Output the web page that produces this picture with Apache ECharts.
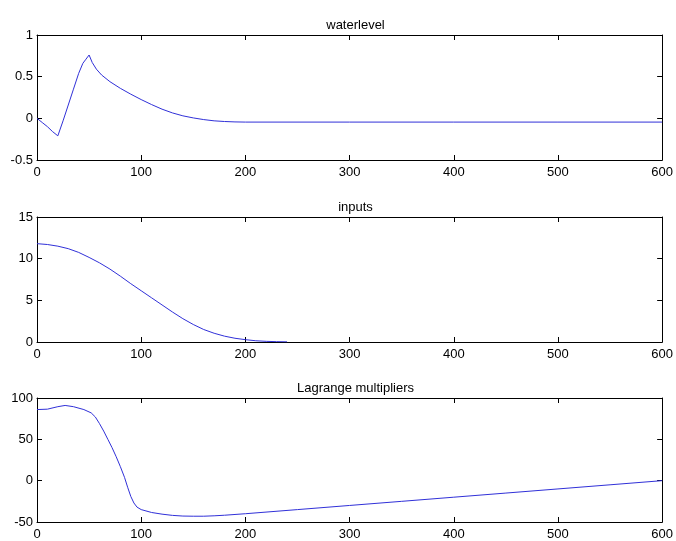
<!DOCTYPE html>
<html>
<head>
<meta charset="utf-8">
<script src="https://cdn.jsdelivr.net/npm/echarts@6/dist/echarts.min.js"></script>
<style>
html,body{margin:0;padding:0;background:#fff;}
#chart{width:676px;height:541px;}
</style>
</head>
<body>
<div id="chart"></div>
<script>
// ---- data ----
const titles = ['waterlevel', 'inputs', 'Lagrange multipliers'];
const xTicks = [0, 100, 200, 300, 400, 500, 600];

const waterlevel = [
  [0, 0], [5, -0.05], [10, -0.1], [15, -0.16], [20, -0.21], [25, -0.03], [30, 0.16],
  [35, 0.35], [40, 0.54], [44, 0.66], [47, 0.71], [50, 0.76], [53, 0.67], [57, 0.59], [62, 0.52],
  [70, 0.44], [80, 0.36], [90, 0.29], [100, 0.225], [110, 0.165], [120, 0.11],
  [130, 0.065], [140, 0.03], [150, 0.005], [160, -0.015], [170, -0.03], [180, -0.038],
  [190, -0.043], [200, -0.045], [300, -0.045], [400, -0.045], [500, -0.045], [600, -0.045]
];

const inputs = [
  [0, 11.8], [10, 11.7], [20, 11.5], [30, 11.2], [40, 10.75], [50, 10.15], [60, 9.5],
  [70, 8.75], [80, 7.9], [90, 7.0], [100, 6.15], [110, 5.3], [120, 4.45], [130, 3.6],
  [140, 2.8], [150, 2.1], [160, 1.5], [170, 1.05], [180, 0.7], [190, 0.45], [200, 0.28],
  [210, 0.15], [220, 0.08], [230, 0.04], [240, 0.02]
];

const lagrange = [
  [0, 86], [10, 86.5], [20, 89.5], [27, 91], [35, 89.5], [45, 86], [52, 82], [56, 77],
  [60, 69], [64, 60], [68, 50], [72, 40], [76, 29], [80, 17], [84, 4], [87, -8],
  [90, -19], [93, -27], [96, -32], [100, -35], [110, -38.5],
  [120, -40.5], [130, -42], [140, -42.8], [150, -43], [160, -43],
  [170, -42.5], [180, -41.8], [200, -40], [250, -35], [300, -30], [350, -25],
  [400, -20], [450, -15], [500, -10], [550, -5], [600, 0]
];

const yRanges = [
  { min: -0.5, max: 1, interval: 0.5 },
  { min: 0, max: 15, interval: 5 },
  { min: -50, max: 100, interval: 50 }
];
const seriesData = [waterlevel, inputs, lagrange];

// ---- layout ----
const gridTops = [35, 217, 398];
const gridH = 125;
const FONT = 'Liberation Sans, Arial, sans-serif';

const chart = echarts.init(document.getElementById('chart'), null, { renderer: 'canvas' });

const grids = [], xAxes = [], yAxes = [], series = [], titleArr = [];
const axisLine = { show: true, onZero: false, lineStyle: { color: '#000', width: 1 } };
const axisTick = { show: true, inside: true, length: 5, lineStyle: { color: '#000', width: 1 } };

for (let i = 0; i < 3; i++) {
  grids.push({ left: 37, right: 12, top: gridTops[i], height: gridH, containLabel: false });
  titleArr.push({
    text: titles[i], left: 350.5, top: gridTops[i] - 21, textAlign: 'center',
    textStyle: { fontFamily: FONT, fontSize: 13, fontWeight: 'normal', color: '#000' }
  });
  xAxes.push({
    type: 'value', gridIndex: i, position: 'bottom', min: 0, max: 600, interval: 100,
    axisLine, axisTick, splitLine: { show: false },
    axisLabel: { color: '#000', fontFamily: FONT, fontSize: 13, margin: 6,
      formatter: v => xTicks.includes(v) ? String(v) : '' }
  });
  xAxes.push({
    type: 'value', gridIndex: i, position: 'top', min: 0, max: 600, interval: 100,
    axisLine, axisTick, splitLine: { show: false }, axisLabel: { show: false }
  });
  const r = yRanges[i];
  yAxes.push({
    type: 'value', gridIndex: i, position: 'left', min: r.min, max: r.max, interval: r.interval,
    axisLine, axisTick, splitLine: { show: false },
    axisLabel: { color: '#000', fontFamily: FONT, fontSize: 13, margin: 4 }
  });
  yAxes.push({
    type: 'value', gridIndex: i, position: 'right', min: r.min, max: r.max, interval: r.interval,
    axisLine, axisTick, splitLine: { show: false }, axisLabel: { show: false }
  });
  series.push({
    type: 'line', xAxisIndex: i * 2, yAxisIndex: i * 2, data: seriesData[i],
    showSymbol: false, smooth: false,
    lineStyle: { color: '#3030d8', width: 1 }, itemStyle: { color: '#3030d8' }
  });
}

chart.setOption({
  animation: false,
  backgroundColor: '#fff',
  title: titleArr,
  grid: grids,
  xAxis: xAxes,
  yAxis: yAxes,
  series
});
</script>
</body>
</html>
